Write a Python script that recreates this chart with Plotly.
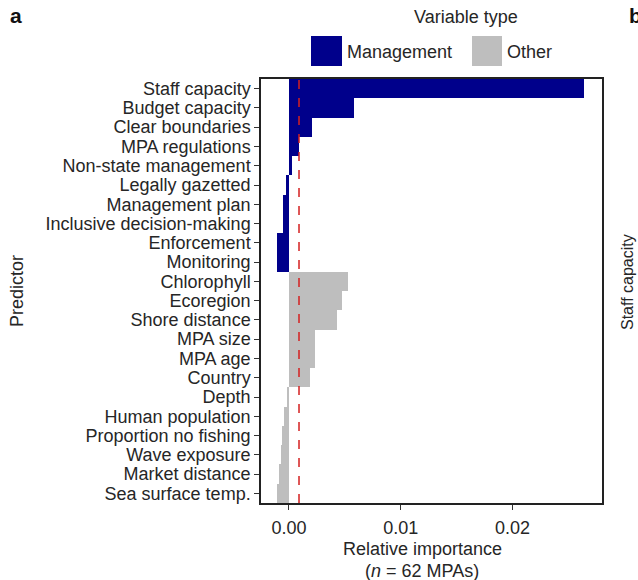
import plotly.graph_objects as go

# ---- data ----
predictors = [
    "Staff capacity", "Budget capacity", "Clear boundaries", "MPA regulations",
    "Non-state management", "Legally gazetted", "Management plan",
    "Inclusive decision-making", "Enforcement", "Monitoring",
    "Chlorophyll", "Ecoregion", "Shore distance", "MPA size", "MPA age",
    "Country", "Depth", "Human population", "Proportion no fishing",
    "Wave exposure", "Market distance", "Sea surface temp.",
]
variable_type = ["Management"] * 10 + ["Other"] * 12
importance = [
    0.0264, 0.0058, 0.0021, 0.0009, 0.0003, -0.00025, -0.0005, -0.0005,
    -0.00105, -0.00105,
    0.0053, 0.0047, 0.0043, 0.0023, 0.0023, 0.0019, -0.0002, -0.0004,
    -0.0006, -0.00075, -0.0009, -0.00105,
]
threshold = 0.0009
x_ticks = [0.0, 0.01, 0.02]
x_tick_labels = ["0.00", "0.01", "0.02"]
type_colors = {"Management": "#00008B", "Other": "#BEBEBE"}

# ---- layout geometry (pixels) ----
W, H = 638, 580
L, R, T, B = 261, 602, 79, 503   # plot area
FONT = "Liberation Sans, Arial, Helvetica, sans-serif"
TXT = "#262626"


def px(x):
    return (x - L) / (R - L)


def py(y):
    return (B - y) / (B - T)


fig = go.Figure()
for vt in ["Management", "Other"]:
    ys = [p for p, t in zip(predictors, variable_type) if t == vt]
    xs = [v for v, t in zip(importance, variable_type) if t == vt]
    fig.add_trace(go.Bar(
        x=xs, y=ys, orientation="h", name=vt,
        marker=dict(color=type_colors[vt], line=dict(width=0)),
        showlegend=False,
    ))

fig.add_shape(type="line", xref="x", yref="paper", x0=threshold, x1=threshold,
              y0=0, y1=1, line=dict(color="#D42020", width=1.5, dash="dash"))

# legend (manual, large keys)
fig.add_annotation(x=px(466), y=py(17), xref="paper", yref="paper",
                   text="Variable type", showarrow=False,
                   font=dict(size=18, color=TXT), xanchor="center", yanchor="middle")
fig.add_shape(type="rect", xref="paper", yref="paper", x0=px(311), x1=px(342),
              y0=py(66), y1=py(36), fillcolor=type_colors["Management"], line=dict(width=0))
fig.add_annotation(x=px(345), y=py(52), xref="paper", yref="paper",
                   text="Management", showarrow=False,
                   font=dict(size=18, color=TXT), xanchor="left", yanchor="middle")
fig.add_shape(type="rect", xref="paper", yref="paper", x0=px(472), x1=px(502),
              y0=py(66), y1=py(36), fillcolor=type_colors["Other"], line=dict(width=0))
fig.add_annotation(x=px(505), y=py(52), xref="paper", yref="paper",
                   text="Other", showarrow=False,
                   font=dict(size=18, color=TXT), xanchor="left", yanchor="middle")

# axis titles and panel labels
fig.add_annotation(x=px(422), y=py(549), xref="paper", yref="paper",
                   text="Relative importance", showarrow=False,
                   font=dict(size=18, color=TXT), xanchor="center", yanchor="middle")
fig.add_annotation(x=px(422), y=py(571), xref="paper", yref="paper",
                   text="(<i>n</i> = 62 MPAs)", showarrow=False,
                   font=dict(size=18, color=TXT), xanchor="center", yanchor="middle")
fig.add_annotation(x=px(17), y=py(291), xref="paper", yref="paper",
                   text="Predictor", showarrow=False, textangle=-90,
                   font=dict(size=18, color=TXT), xanchor="center", yanchor="middle")
fig.add_annotation(x=px(8), y=py(15), xref="paper", yref="paper",
                   text="<b>a</b>", showarrow=False,
                   font=dict(size=21, color="#111"), xanchor="left", yanchor="middle")
fig.add_annotation(x=px(627), y=py(15), xref="paper", yref="paper",
                   text="<b>b</b>", showarrow=False,
                   font=dict(size=21, color="#111"), xanchor="left", yanchor="middle")
fig.add_annotation(x=px(627), y=py(282), xref="paper", yref="paper",
                   text="Staff capacity", showarrow=False, textangle=-90,
                   font=dict(size=16, color=TXT), xanchor="center", yanchor="middle")

fig.update_layout(
    width=W, height=H,
    margin=dict(l=L, r=W - R, t=T, b=H - B, autoexpand=False),
    paper_bgcolor="white", plot_bgcolor="white",
    font=dict(family=FONT, size=18, color=TXT),
    barmode="overlay", bargap=0,
    xaxis=dict(
        range=[-0.0025, 0.028], tickmode="array", tickvals=x_ticks,
        ticktext=x_tick_labels, ticks="outside", ticklen=5, tickwidth=1.2,
        tickcolor="#333", showgrid=False, zeroline=False,
        showline=True, linecolor="#222", linewidth=1.5, mirror=True,
        tickfont=dict(size=18, color=TXT), ticklabelstandoff=3,
    ),
    yaxis=dict(
        categoryorder="array", categoryarray=predictors, autorange="reversed",
        tickmode="linear", dtick=1, ticks="outside", ticklen=5, tickwidth=1.2,
        tickcolor="#333", showgrid=False, zeroline=False,
        showline=True, linecolor="#222", linewidth=1.5, mirror=True,
        tickfont=dict(size=18, color=TXT), range=[21.5, -0.5],
    ),
)

fig.write_html(
    "out.html",
    config={"displayModeBar": False},
    post_script="document.body.style.margin='0';document.body.style.overflow='hidden';",
)
